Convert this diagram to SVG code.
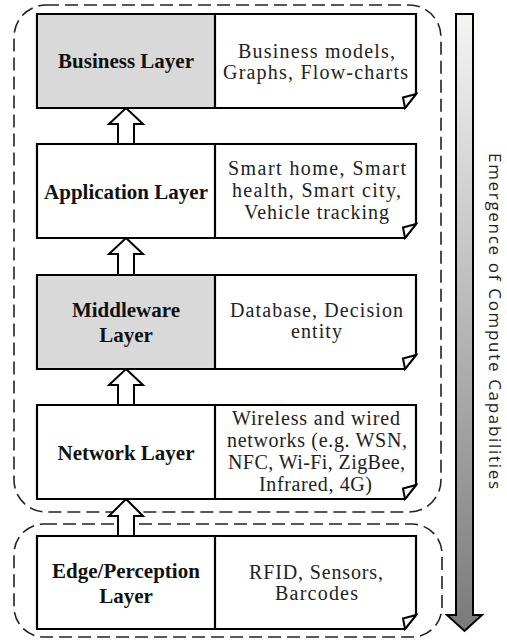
<svg xmlns="http://www.w3.org/2000/svg" width="507" height="641" viewBox="0 0 507 641">
<style>
.box{fill:#fff;stroke:#000;stroke-width:2.2;stroke-linejoin:miter}
.gray{fill:#d9d9d9}
.div{stroke:#000;stroke-width:2.2}
.fold{fill:#fff;stroke:#000;stroke-width:2;stroke-linejoin:miter}
.lt{font-family:"Liberation Serif","Times New Roman",serif;font-weight:bold;font-size:21px;fill:#111;text-anchor:middle}
.rt{font-family:"Liberation Serif","Times New Roman",serif;font-size:20px;fill:#222;text-anchor:middle}
.grp{fill:none;stroke:#222;stroke-width:1.6;stroke-dasharray:13 6}
.up{fill:#fff;stroke:#000;stroke-width:2;stroke-linejoin:miter}
.side{font-family:"Open Sans","DejaVu Sans",sans-serif;font-size:17px;fill:#222;text-anchor:middle}
</style>
<defs>
<linearGradient id="g" x1="0" y1="0" x2="0" y2="1">
<stop offset="0" stop-color="#f6f3f3"/>
<stop offset="1" stop-color="#7a7a7a"/>
</linearGradient>
</defs>

<g id="groups">
<rect class="grp" x="14" y="5" width="427" height="507" rx="32" ry="32"/>
<rect class="grp" x="14" y="524" width="428" height="113" rx="30" ry="30"/>
</g>

<g id="connectors">
<path class="up" d="M126,108 L143,124 L134,124 L134,144 L118,144 L118,124 L109,124 Z"/>
<path class="up" d="M126,238 L143,254 L134,254 L134,275 L118,275 L118,254 L109,254 Z"/>
<path class="up" d="M126,369 L143,385 L134,385 L134,405 L118,405 L118,385 L109,385 Z"/>
<path class="up" d="M126,499 L143,516 L134,516 L134,536 L118,536 L118,516 L109,516 Z"/>
</g>

<g id="business">
<path class="box" d="M37,14 H416 V94 L405,108 H37 Z"/>
<rect class="gray" x="38.1" y="15.1" width="176.9" height="91.8"/>
<line class="div" x1="215" y1="14" x2="215" y2="108"/>
<path class="fold" d="M416,94 L403,97.5 L405,108 Z"/>
<text class="lt" x="126" y="68">Business Layer</text>
<text class="rt" x="316.5" y="58" textLength="157" lengthAdjust="spacing">Business models,</text>
<text class="rt" x="315.5" y="79" textLength="185" lengthAdjust="spacing">Graphs, Flow-charts</text>
</g>

<g id="application">
<path class="box" d="M37,144 H416 V224 L405,238 H37 Z"/>
<line class="div" x1="215" y1="144" x2="215" y2="238"/>
<path class="fold" d="M416,224 L403,227.5 L405,238 Z"/>
<text class="lt" x="126" y="199">Application Layer</text>
<text class="rt" x="317" y="175" textLength="178" lengthAdjust="spacing">Smart home, Smart</text>
<text class="rt" x="316.5" y="197" textLength="169" lengthAdjust="spacing">health, Smart city,</text>
<text class="rt" x="316.5" y="219" textLength="145" lengthAdjust="spacing">Vehicle tracking</text>
</g>

<g id="middleware">
<path class="box" d="M37,275 H416 V355 L405,369 H37 Z"/>
<rect class="gray" x="38.1" y="276.1" width="176.9" height="91.8"/>
<line class="div" x1="215" y1="275" x2="215" y2="369"/>
<path class="fold" d="M416,355 L403,358.5 L405,369 Z"/>
<text class="lt" x="126" y="317">Middleware</text>
<text class="lt" x="126" y="342">Layer</text>
<text class="rt" x="316.5" y="317" textLength="173" lengthAdjust="spacing">Database, Decision</text>
<text class="rt" x="316.5" y="338" textLength="51" lengthAdjust="spacing">entity</text>
</g>

<g id="network">
<path class="box" d="M37,405 H416 V485 L405,499 H37 Z"/>
<line class="div" x1="215" y1="405" x2="215" y2="499"/>
<path class="fold" d="M416,485 L403,488.5 L405,499 Z"/>
<text class="lt" x="126" y="460">Network Layer</text>
<text class="rt" x="316" y="425" textLength="168" lengthAdjust="spacing">Wireless and wired</text>
<text class="rt" x="317" y="447" textLength="180" lengthAdjust="spacing">networks (e.g. WSN,</text>
<text class="rt" x="316.5" y="469" textLength="177" lengthAdjust="spacing">NFC, Wi-Fi, ZigBee,</text>
<text class="rt" x="315.5" y="491" textLength="113" lengthAdjust="spacing">Infrared, 4G)</text>
</g>

<g id="edge">
<path class="box" d="M37,536 H416 V615 L405,629 H37 Z"/>
<line class="div" x1="215" y1="536" x2="215" y2="629"/>
<path class="fold" d="M416,615 L403,618.5 L405,629 Z"/>
<text class="lt" x="126" y="578">Edge/Perception</text>
<text class="lt" x="126" y="603">Layer</text>
<text class="rt" x="316" y="579" textLength="134" lengthAdjust="spacing">RFID, Sensors,</text>
<text class="rt" x="316.5" y="600" textLength="83" lengthAdjust="spacing">Barcodes</text>
</g>

<g id="compute-arrow">
<path d="M456,14 H473 V615 H482 L464.5,631 L447,615 H456 Z" fill="url(#g)" stroke="#000" stroke-width="2" stroke-linejoin="miter"/>
<text class="side" transform="translate(489,321) rotate(90)" x="0" y="0" textLength="336" lengthAdjust="spacing">Emergence of Compute Capabilities</text>
</g>
</svg>
